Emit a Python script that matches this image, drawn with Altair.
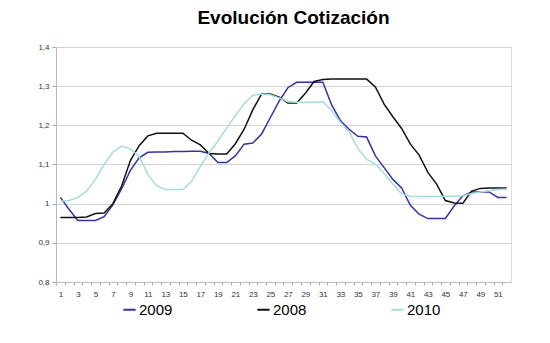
import altair as alt
import pandas as pd

weeks = list(range(1, 53))

s2009 = [1.016, 0.985, 0.957, 0.957, 0.957, 0.967, 0.997, 1.038, 1.085, 1.117,
         1.131, 1.132, 1.132, 1.133, 1.133, 1.134, 1.134, 1.128, 1.105, 1.105,
         1.122, 1.152, 1.155, 1.178, 1.220, 1.262, 1.296, 1.310, 1.310, 1.310,
         1.310, 1.252, 1.212, 1.190, 1.172, 1.170, 1.122, 1.092, 1.062, 1.040,
         0.996, 0.973, 0.962, 0.962, 0.962, 0.994, 1.020, 1.030, 1.030, 1.030,
         1.016, 1.016]

s2008 = [0.965, 0.965, 0.965, 0.966, 0.975, 0.976, 1.000, 1.045, 1.110, 1.148,
         1.173, 1.180, 1.180, 1.180, 1.180, 1.162, 1.150, 1.128, 1.127, 1.127,
         1.153, 1.190, 1.240, 1.280, 1.280, 1.272, 1.257, 1.257, 1.282, 1.312,
         1.317, 1.318, 1.318, 1.318, 1.318, 1.318, 1.298, 1.254, 1.222, 1.192,
         1.152, 1.124, 1.080, 1.050, 1.008, 1.002, 1.001, 1.032, 1.039, 1.040,
         1.040, 1.040]

s2010 = [1.006, 1.008, 1.016, 1.032, 1.062, 1.100, 1.132, 1.147, 1.140, 1.121,
         1.074, 1.046, 1.036, 1.036, 1.036, 1.057, 1.095, 1.130, 1.160, 1.193,
         1.225, 1.255, 1.277, 1.280, 1.278, 1.270, 1.260, 1.259, 1.259, 1.259,
         1.260, 1.238, 1.208, 1.183, 1.141, 1.113, 1.101, 1.077, 1.050, 1.025,
         1.019, 1.018, 1.018, 1.018, 1.019, 1.019, 1.020, 1.026, 1.030, 1.033,
         1.036, 1.037]

series_names = ["2009", "2008", "2010"]
series_colors = ["#3333a3", "#111111", "#a6dbe0"]
y_ticks = [0.8, 0.9, 1.0, 1.1, 1.2, 1.3, 1.4]

rows = []
for name, vals in zip(series_names, [s2009, s2008, s2010]):
    for w, v in zip(weeks, vals):
        rows.append({"semana": w, "valor": v, "serie": name})
df = pd.DataFrame(rows)

plot_w = 455
plot_h = 235
step = plot_w / 52.0

chart = alt.Chart(df).mark_line(strokeWidth=1.5).encode(
    x=alt.X("semana:Q",
            scale=alt.Scale(domain=[0.5, 52.5], nice=False, zero=False),
            axis=alt.Axis(values=weeks, title=None, grid=False,
                          labelExpr="datum.value % 2 == 1 ? datum.value : ''",
                          tickOffset=-step / 2, labelOffset=step / 2,
                          labelFontSize=8, labelColor="#333333",
                          labelFont="Liberation Sans", labelPadding=5,
                          tickSize=3, tickColor="#aaaaaa",
                          domainColor="#bbbbbb", labelFlush=False,
                          labelOverlap=False)),
    y=alt.Y("valor:Q",
            scale=alt.Scale(domain=[0.8, 1.4], nice=False, zero=False),
            axis=alt.Axis(values=y_ticks, title=None,
                          labelExpr="datum.value == 1 ? '1' : replace(format(datum.value, '.1f'), '.', ',')",
                          labelFontSize=8, labelColor="#333333",
                          labelFont="Liberation Sans", labelPadding=3,
                          tickSize=4, tickColor="#aaaaaa",
                          domainColor="#bbbbbb", gridColor="#d4d4d4",
                          labelFlush=False)),
    color=alt.Color("serie:N",
                    scale=alt.Scale(domain=series_names, range=series_colors),
                    legend=alt.Legend(title=None, orient="none",
                                      legendX=66, legendY=255,
                                      direction="horizontal", columns=3,
                                      columnPadding=80,
                                      symbolType="stroke", symbolSize=150,
                                      symbolStrokeWidth=2,
                                      labelFontSize=15, labelFont="Liberation Sans",
                                      labelColor="#000000", labelOffset=2)),
).properties(
    width=plot_w,
    height=plot_h,
    title=alt.TitleParams("Evolución Cotización", fontSize=19,
                          font="Liberation Sans", fontWeight="bold",
                          color="#000000", anchor="middle", dx=10, offset=15),
    autosize=alt.AutoSizeParams(type="none"),
    padding={"left": 56, "top": 47, "right": 39, "bottom": 61},
).configure_view(stroke=None).configure(background="white")

chart.save("out.html", embed_options={"renderer": "svg", "actions": False})
